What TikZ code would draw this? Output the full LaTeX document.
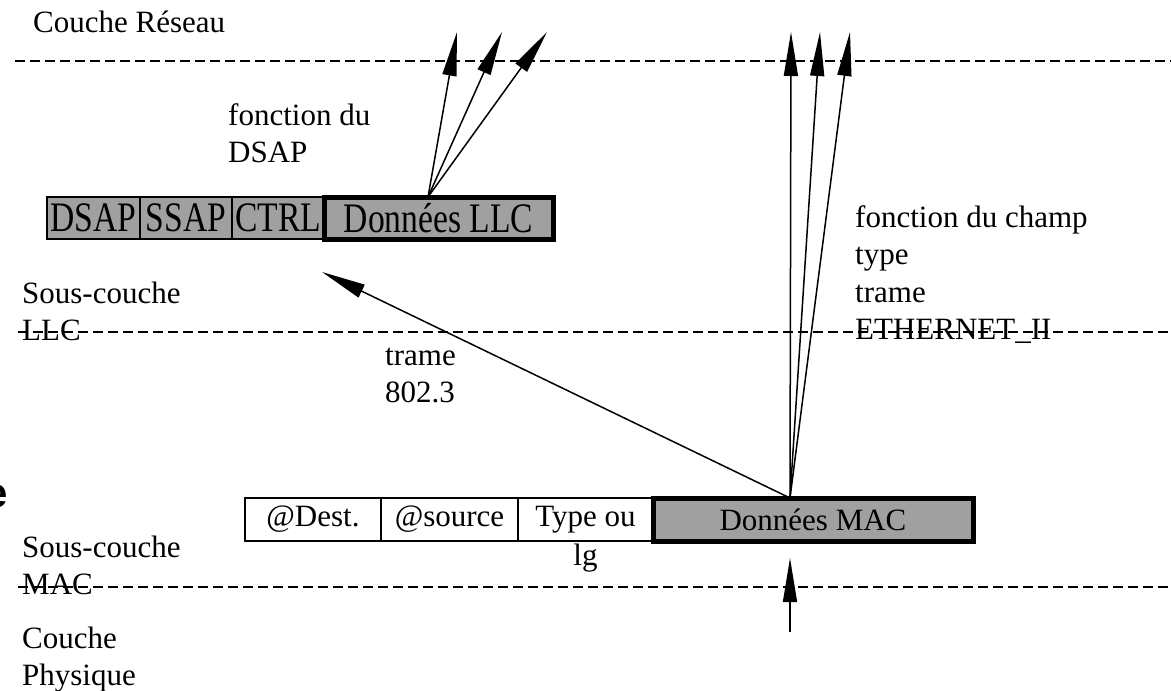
\documentclass[tikz,border=0pt]{standalone}
\usepackage{fontspec}
\setmainfont{Liberation Serif}
\newfontfamily\edgefont{Liberation Sans}
\usepackage{graphicx}
\usepackage{xcolor}
\usepackage{tikz}
\usetikzlibrary{positioning,arrows.meta}
\definecolor{cellgray}{RGB}{160,160,160}
\newcommand{\squeeze}[1]{\scalebox{0.8}[1]{#1}}
\tikzset{
  cell/.style={draw, line width=2pt, outer sep=0pt, inner sep=0pt, minimum height=43pt, font=\fontsize{31}{37.5}\selectfont},
  llccell/.style={cell, fill=cellgray, minimum height=42pt, font=\fontsize{42}{42}\selectfont},
  datacell/.style={line width=5pt, fill=cellgray},
  note/.style={inner sep=0pt, align=left, font=\fontsize{31}{37.5}\selectfont},
  layer/.style={dash pattern=on 10pt off 5pt, line width=2pt},
  line/.style={-{Triangle[length=44pt, width=14pt]}, line width=1.5pt}
}
\begin{document}
\begin{tikzpicture}[x=1pt, y=-1pt]
    \useasboundingbox (0,0) rectangle (1171,691);

    % limites des couches
    \draw[layer] (15,61) -- (1171,61);
    \draw[layer] (18,332) -- (1171,332);
    \draw[layer] (18,587) -- (1171,587);

    % base = derniere ligne du texte
    \node[note, anchor=base west] (reseau) at (33,32) {Couche Réseau};
    \node[note, anchor=base west] (llclayer) at (22,340.5) {Sous-couche\\LLC};
    \node[note, anchor=base west] (maclayer) at (22,594.5) {Sous-couche\\MAC};
    \node[note, anchor=base west] (phylayer) at (22,685.5) {Couche\\Physique};
    \node[anchor=base east, inner sep=0pt, font=\edgefont\bfseries\fontsize{42}{42}\selectfont] (cut) at (8,507) {e};

    \node[note, anchor=base west] (dsapnote) at (228,162.5) {fonction du\\DSAP};
    \node[note, anchor=base west] (typenote) at (855,339.5) {fonction du champ\\type\\trame\\ETHERNET\_II};
    \node[note, anchor=base west] (trame) at (385,402.5) {trame\\802.3};

    % trame LLC
    \node[llccell, minimum width=93pt, anchor=west] (dsap) at (47,218) {\squeeze{DSAP}};
    \node[llccell, minimum width=92pt, right=0pt of dsap] (ssap) {\squeeze{SSAP}};
    \node[llccell, minimum width=92pt, right=0pt of ssap] (ctrl) {\squeeze{CTRL}};
    \node[llccell, datacell, minimum width=229pt, right=0pt of ctrl] (llcdata) {\squeeze{Données LLC}};

    % trame MAC
    \node[cell, minimum width=136pt, anchor=west] (dest) at (245,519.5) {@Dest.};
    \node[cell, minimum width=137pt, right=0pt of dest] (source) {@source};
    \node[cell, minimum width=135pt, right=0pt of source] (type) {Type ou};
    \node[cell, datacell, minimum width=320pt, right=0pt of type] (macdata) {Données MAC};
    \node[note, anchor=base] (lg) at (585.5,565) {lg};

    \coordinate (llcsrc) at ([xshift=-10.5pt]llcdata.north);
    \coordinate (macsrc) at ([xshift=-23pt]macdata.north);
    \coordinate (up1) at (457,32);
    \coordinate (up2) at (502,32);
    \coordinate (up3) at (547,32);
    \coordinate (net1) at (791,32);
    \coordinate (net2) at (820,32);
    \coordinate (net3) at (850,32);
    \coordinate (llcin) at (322,272);
    \coordinate (phy) at (790,632);
    \coordinate (macin) at (790,558);

    \draw[line] (llcsrc) -- (up1);
    \draw[line] (llcsrc) -- (up2);
    \draw[line] (llcsrc) -- (up3);

    \draw[line] (macsrc) -- (net1);
    \draw[line] (macsrc) -- (net2);
    \draw[line] (macsrc) -- (net3);
    \draw[line] (macsrc) -- (llcin);

    \draw[line] (phy) -- (macin);
\end{tikzpicture}
\end{document}
